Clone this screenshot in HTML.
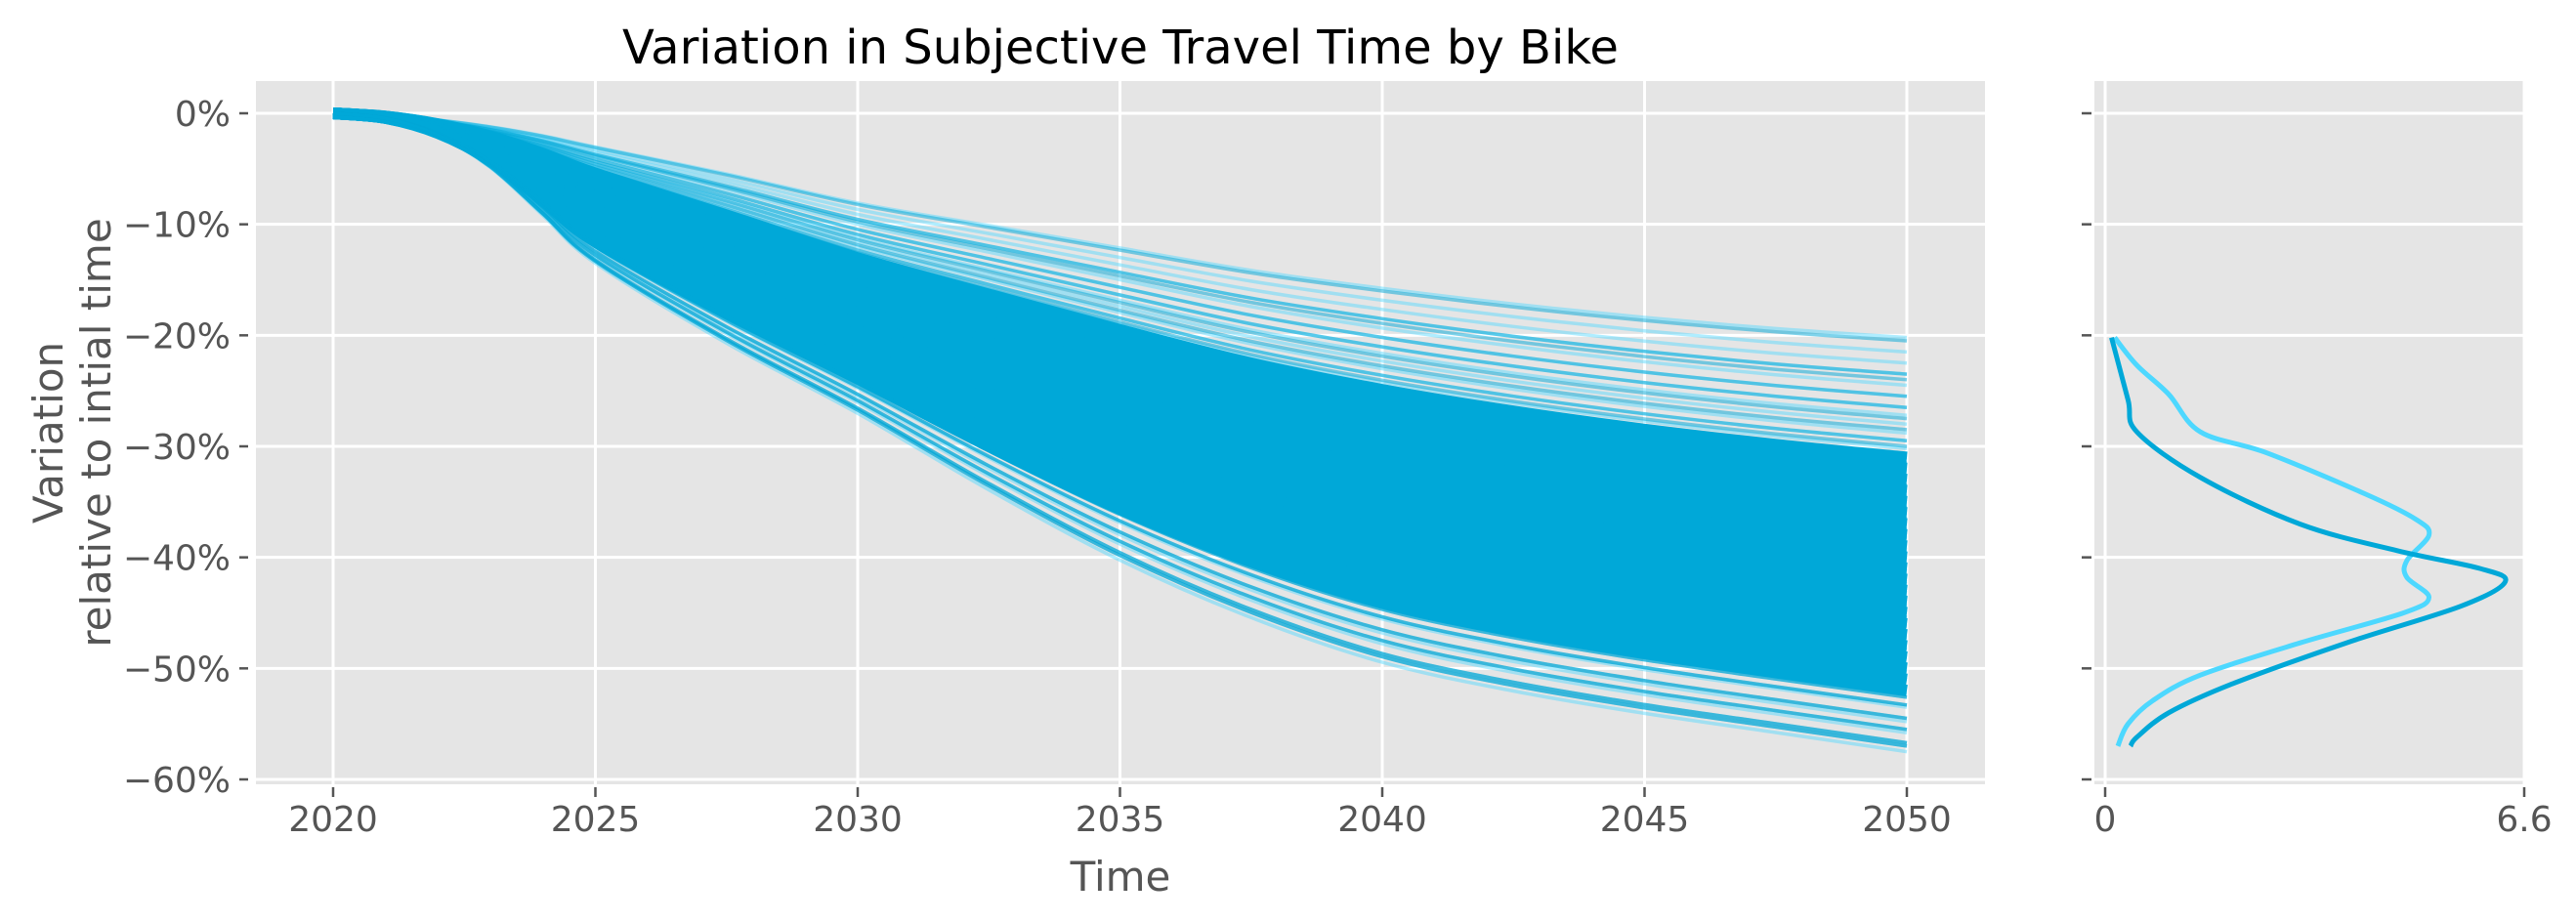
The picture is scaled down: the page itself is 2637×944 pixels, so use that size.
<!DOCTYPE html>
<html><head><meta charset="utf-8">
<style>
html,body{margin:0;padding:0;background:#fff;}
svg{display:block;font-family:"DejaVu Sans","Liberation Sans",sans-serif;}
</style></head>
<body>
<svg id="chart" width="2637" height="944" viewBox="0 0 2637 944" xmlns="http://www.w3.org/2000/svg"></svg>
<script>
// ---- data ----
const years = [2020, 2021, 2022, 2023, 2024, 2025, 2027.5, 2030, 2032.5, 2035, 2037.5, 2040, 2042.5, 2045, 2047.5, 2050];
const profileSteep = [0, 0.008, 0.035, 0.085, 0.16, 0.235, 0.36, 0.47, 0.59, 0.70, 0.79, 0.86, 0.905, 0.94, 0.97, 1];
const profileShallow = [0, 0.01, 0.03, 0.06, 0.10, 0.15, 0.27, 0.40, 0.50, 0.60, 0.70, 0.78, 0.85, 0.91, 0.96, 1];
const endDark = [-20.5,-23.5,-24,-25.5,-26.5,-27.5,-28.5,-29.5,-30,-31,-31.5,-32,-33,-33.5,-34,-34.5,-35,-35.5,-36,-36.5,-37,-37.5,-38,-38.3,-38.7,-39,-39.3,-39.6,-40,-40.2,-40.5,-40.8,-41,-41.2,-41.5,-41.7,-42,-42.2,-42.4,-42.6,-42.8,-43,-43.2,-43.5,-43.8,-44,-44.3,-44.6,-45,-45.4,-45.8,-46.2,-46.7,-47.2,-47.8,-48.3,-49,-49.6,-50.3,-51,-51.8,-52.6,-53.3,-54.5,-55.5,-56.7,-57];
const endLight = [-20.2,-21.5,-22.5,-23.5,-24.5,-25.5,-26.5,-27.2,-28,-28.8,-29.5,-30.2,-31,-31.7,-32.3,-33,-33.6,-34.2,-34.8,-35.3,-35.8,-36.2,-36.6,-37,-37.4,-37.8,-38.2,-38.6,-39,-39.5,-40,-40.6,-41.2,-41.8,-42.3,-42.8,-43.2,-43.6,-44,-44.4,-44.9,-45.4,-46,-46.7,-47.4,-48.2,-49,-50,-51,-52.3,-53.5,-54.8,-55.8,-57.5];
const densYDark = [-20.2,-25.8,-28.7,-32.8,-37,-39.4,-41,-42.2,-44.4,-47.7,-51.4,-54,-56.2,-57];
const densXDark = [0.1,0.36,0.5,1.5,3.07,4.6,5.9,6.3,5.6,3.8,2.0,1.0,0.5,0.4];
const densYLight = [-20.2,-22.7,-25.3,-28.7,-30.6,-34.3,-36.6,-38,-40.3,-41.8,-43.6,-45,-47.7,-50.6,-52.9,-55,-57];
const densXLight = [0.15,0.5,1.0,1.5,2.55,4.1,4.9,5.1,4.75,4.75,5.1,4.7,3.07,1.5,0.75,0.36,0.2];
const yTicks = [0,-10,-20,-30,-40,-50,-60];
const xTicks = [2020,2025,2030,2035,2040,2045,2050];
const dTicks = [0, 6.6];

// ---- layout ----
const NS = "http://www.w3.org/2000/svg";
const svg = document.getElementById('chart');
const M = {l:262, r:2032, t:83, b:803};
const R = {l:2144, r:2584};
const X = v => 341 + (v - 2020) * (1952 - 341) / 30;
const Y = v => 116 + (v / -60) * (798 - 116);
const DX = v => 2155 + v * (2584 - 2155) / 6.6;
function mk(tag, attrs, parent){ const e=document.createElementNS(NS,tag); for(const k in attrs) e.setAttribute(k,attrs[k]); (parent||svg).appendChild(e); return e; }
function smoothPts(pts){
  let d='M'+pts[0][0].toFixed(1)+','+pts[0][1].toFixed(1);
  for(let i=0;i<pts.length-1;i++){
    const p0=pts[Math.max(0,i-1)],p1=pts[i],p2=pts[i+1],p3=pts[Math.min(pts.length-1,i+2)];
    const c1=[p1[0]+(p2[0]-p0[0])/6,p1[1]+(p2[1]-p0[1])/6];
    const c2=[p2[0]-(p3[0]-p1[0])/6,p2[1]-(p3[1]-p1[1])/6];
    d+='C'+c1.map(v=>v.toFixed(1)).join(',')+' '+c2.map(v=>v.toFixed(1)).join(',')+' '+p2.map(v=>v.toFixed(1)).join(',');
  }
  return d;
}

// backgrounds
const bg1 = mk('rect',{x:M.l,y:M.t,width:M.r-M.l,height:M.b-M.t,fill:'#e5e5e5'});
 
const bg2 = mk('rect',{x:R.l,y:M.t,width:R.r-R.l,height:M.b-M.t,fill:'#e5e5e5'});
 

// grid
yTicks.forEach(t=>{
  const y=Y(t);
  const g1=mk('line',{x1:M.l,x2:M.r,y1:y,y2:y,stroke:'#fff','stroke-width':3});
   
  const g2=mk('line',{x1:R.l,x2:R.r,y1:y,y2:y,stroke:'#fff','stroke-width':3});
   
  const tk=mk('line',{x1:245,x2:254,y1:y,y2:y,stroke:'#555','stroke-width':2.5});
   
  const tk2=mk('line',{x1:2131,x2:2141,y1:y,y2:y,stroke:'#555','stroke-width':2.5});
   
  const lb=mk('text',{x:236,y:y+13,'text-anchor':'end','font-size':36,fill:'#555'});
  lb.textContent=(t<0?'\u2212'+(-t):t)+'%';
   
});
xTicks.forEach(t=>{
  const x=X(t);
  const g=mk('line',{x1:x,x2:x,y1:M.t,y2:M.b,stroke:'#fff','stroke-width':3});
   
  const tk=mk('line',{x1:x,x2:x,y1:806,y2:816,stroke:'#555','stroke-width':2.5});
   
  const lb=mk('text',{x:x,y:851,'text-anchor':'middle','font-size':36,fill:'#555'});
  lb.textContent=t;
   
});
dTicks.forEach(t=>{
  const x=DX(t);
  const g=mk('line',{x1:x,x2:x,y1:M.t,y2:M.b,stroke:'#fff','stroke-width':3});
   
  const tk=mk('line',{x1:x,x2:x,y1:806,y2:816,stroke:'#555','stroke-width':2.5});
   
  const lb=mk('text',{x:x,y:851,'text-anchor':'middle','font-size':36,fill:'#555'});
  lb.textContent=t;
   
});

// series lines
const gLines = mk('g',{fill:'none','stroke-width':3.5,'stroke-linejoin':'round'});
 
function pathFor(end){
  const w = Math.min(1, Math.max(0, (-end - 20) / 37.5));
  const pts = years.map((yr,i)=>{
    const p = profileSteep[i]*w + profileShallow[i]*(1-w);
    return [X(yr), Y(end*p)];
  });
  return smoothPts(pts);
}
endLight.forEach(e=>{
  const p=mk('path',{d:pathFor(e),stroke:'#4dd8ff','stroke-opacity':0.45},gLines);
   
});
endDark.forEach(e=>{
  const p=mk('path',{d:pathFor(e),stroke:'#00a8d8','stroke-opacity':0.5},gLines);
   
});
// central dense band (many overlapping runs)
const bandEnds = [-31,-32,-33,-34,-35,-36,-37,-38,-39,-40,-41,-42,-43,-44,-45,-46,-47,-48,-49,-50,-51,-52];
bandEnds.forEach(e=>{
  const p=mk('path',{d:pathFor(e),stroke:'#00a8d8','stroke-width':12},gLines);
   
});
endDark.filter(e=>e<-52).forEach(e=>{
  const p=mk('path',{d:pathFor(e),stroke:'#00a8d8','stroke-opacity':0.5,'stroke-width':3.5},gLines);
   
});

// density curves
function smooth(xs, ys){ return smoothPts(xs.map((v,i)=>[DX(v),Y(ys[i])])); }
const dl=mk('path',{d:smooth(densXLight,densYLight),fill:'none',stroke:'#4dd8ff','stroke-width':5});
 
const dd=mk('path',{d:smooth(densXDark,densYDark),fill:'none',stroke:'#00a8d8','stroke-width':5});
 

// titles
const title=mk('text',{x:1147,y:65,'text-anchor':'middle','font-size':48,fill:'#000'});
title.textContent='Variation in Subjective Travel Time by Bike';
 
const xl=mk('text',{x:1147,y:912,'text-anchor':'middle','font-size':42,fill:'#555'});
xl.textContent='Time';
 
const yl=mk('text',{transform:'translate(0,443) rotate(-90)','text-anchor':'middle','font-size':42,fill:'#555'});
 
const t1=mk('tspan',{x:0,y:64},yl); t1.textContent='Variation';
const t2=mk('tspan',{x:0,y:113},yl); t2.textContent='relative to intial time';
</script>
</body></html>
